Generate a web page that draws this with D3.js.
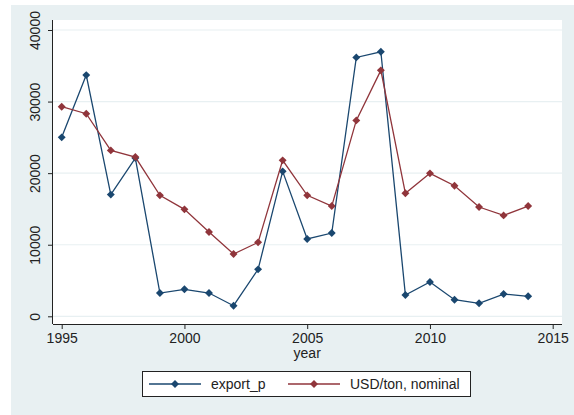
<!DOCTYPE html>
<html>
<head>
<meta charset="utf-8">
<script src="https://cdn.jsdelivr.net/npm/d3@7"></script>
<style>
  body { margin: 0; background: #fff; }
  svg text { font-family: "Liberation Sans", Arial, sans-serif; fill: #222; }
</style>
</head>
<body>
<div id="chart"></div>
<script>
// data
const years = [1995, 1996, 1997, 1998, 1999, 2000, 2001, 2002, 2003, 2004,
  2005, 2006, 2007, 2008, 2009, 2010, 2011, 2012, 2013, 2014];
const exportP = [25000, 33700, 17000, 22100, 3250, 3770, 3250, 1480, 6560, 20250,
  10800, 11630, 36170, 36960, 2970, 4790, 2320, 1815, 3110, 2790];
const usdTon = [29280, 28300, 23180, 22250, 16900, 14940, 11770, 8700, 10330, 21790,
  16900, 15400, 27370, 34360, 17180, 19970, 18240, 15270, 14100, 15400];
const xTicks = [1995, 2000, 2005, 2010, 2015];
const yTicks = [0, 10000, 20000, 30000, 40000];

const series = [
  { name: "export_p", values: exportP, color: "#1a476f" },
  { name: "USD/ton, nominal", values: usdTon, color: "#90353b" }
];

const width = 574, height = 415;
const plot = { left: 53, top: 20, right: 562, bottom: 324 };

const svg = d3.select("#chart")
  .append("svg")
  .attr("width", width)
  .attr("height", height);

// graph region
svg.append("rect")
  .attr("x", 11).attr("y", 5)
  .attr("width", width - 11).attr("height", height - 5)
  .attr("fill", "#e8f0f2");

// plot region
svg.append("rect")
  .attr("x", plot.left).attr("y", plot.top)
  .attr("width", plot.right - plot.left).attr("height", plot.bottom - plot.top)
  .attr("fill", "#fff");

const x = d3.scaleLinear().domain([1995, 2015]).range([61.7, 552.7]);
const y = d3.scaleLinear().domain([0, 40000]).range([316.3, 30]);

// grid
svg.append("g")
  .selectAll("line")
  .data(yTicks)
  .join("line")
  .attr("x1", plot.left).attr("x2", plot.right)
  .attr("y1", d => y(d)).attr("y2", d => y(d))
  .attr("stroke", "#e8f0f2")
  .attr("stroke-width", 1.2);

// axes
const xAxis = svg.append("g")
  .attr("transform", "translate(0," + plot.bottom + ")")
  .call(d3.axisBottom(x).tickValues(xTicks).tickFormat(d3.format("d")).tickSize(5).tickPadding(4));
xAxis.select(".domain").attr("d", "M" + plot.left + ",0.5H" + plot.right).attr("stroke", "#222");
xAxis.selectAll(".tick line").attr("stroke", "#222");
xAxis.selectAll(".tick text").style("font-size", "14px");

const yAxis = svg.append("g")
  .attr("transform", "translate(" + plot.left + ",0)")
  .call(d3.axisLeft(y).tickValues(yTicks).tickFormat(d3.format("d")).tickSize(5));
yAxis.select(".domain").attr("d", "M-0.5," + plot.top + "V" + plot.bottom).attr("stroke", "#222");
yAxis.selectAll(".tick line").attr("stroke", "#222");
yAxis.selectAll(".tick text")
  .style("font-size", "14px")
  .attr("x", null).attr("dy", null)
  .attr("text-anchor", "middle")
  .attr("transform", "translate(-13,0) rotate(-90)");

svg.append("text")
  .attr("x", x(2005)).attr("y", 358)
  .attr("text-anchor", "middle")
  .style("font-size", "14px")
  .text("year");

// lines + markers
const line = d3.line()
  .x((d, i) => x(years[i]))
  .y(d => y(d));

const diamond = d3.symbol().type(d3.symbolDiamond2).size(40);

series.forEach(function(s) {
  svg.append("path")
    .datum(s.values)
    .attr("fill", "none")
    .attr("stroke", s.color)
    .attr("stroke-width", 1.3)
    .attr("d", line);
  svg.append("g")
    .selectAll("path")
    .data(s.values)
    .join("path")
    .attr("transform", (d, i) => "translate(" + x(years[i]) + "," + y(d) + ")")
    .attr("d", diamond)
    .attr("fill", s.color);
});

// legend
const legend = svg.append("g");
legend.append("rect")
  .attr("x", 142.5).attr("y", 371.5)
  .attr("width", 328).attr("height", 25)
  .attr("fill", "#fff")
  .attr("stroke", "#222");

const legendX = [149, 288];
series.forEach(function(s, i) {
  const g = legend.append("g").attr("transform", "translate(" + legendX[i] + ",384)");
  g.append("line")
    .attr("x1", 0).attr("x2", 52)
    .attr("stroke", s.color).attr("stroke-width", 1.3);
  g.append("path")
    .attr("transform", "translate(26,0)")
    .attr("d", diamond)
    .attr("fill", s.color);
  g.append("text")
    .attr("x", 62).attr("y", 5)
    .style("font-size", "14px")
    .text(s.name);
});
</script>
</body>
</html>
